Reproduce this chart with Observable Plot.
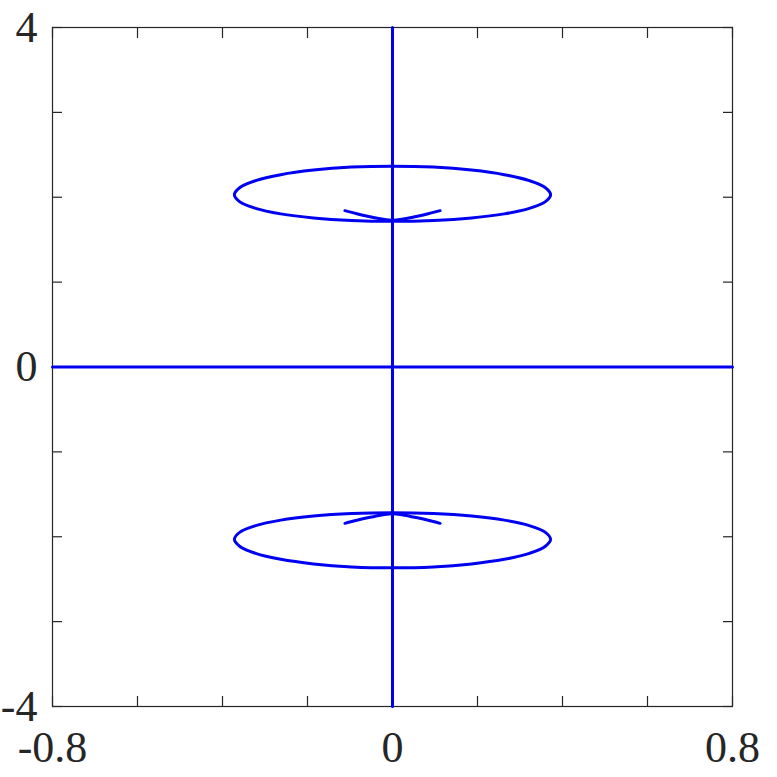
<!DOCTYPE html>
<html>
<head>
<meta charset="utf-8">
<script src="https://cdn.jsdelivr.net/npm/d3@7"></script>
<script src="https://cdn.jsdelivr.net/npm/@observablehq/plot@0.6"></script>
</head>
<body style="margin:0;background:#fff;font-family:'Times New Roman','Liberation Serif',serif">
<div id="chart"></div>
<script>
// Tick positions and labels
const xTicks = [-0.8, -0.6, -0.4, -0.2, 0, 0.2, 0.4, 0.6, 0.8];
const xTickLabels = ["-0.8", "", "", "", "0", "", "", "", "0.8"];
const yTicks = [-4, -3, -2, -1, 0, 1, 2, 3, 4];
const yTickLabels = ["-4", "", "", "", "0", "", "", "", "4"];

// Straight branches
const verticalX = [0, 0];
const verticalY = [-4, 4];
const horizontalX = [-0.8, 0.8];
const horizontalY = [0, 0];

// Upper loop
const upperLoopX = [0.372, 0.359, 0.322, 0.263, 0.186, 0.096, 0, -0.096, -0.186, -0.263, -0.322, -0.359,
                    -0.372, -0.359, -0.322, -0.263, -0.186, -0.096, 0, 0.096, 0.186, 0.263, 0.322, 0.359];
const upperLoopY = [2.030, 2.115, 2.196, 2.266, 2.320, 2.355, 2.366, 2.355, 2.320, 2.266, 2.196, 2.115,
                    2.030, 1.946, 1.869, 1.804, 1.756, 1.726, 1.716, 1.726, 1.756, 1.804, 1.869, 1.946];
// Lower loop
const lowerLoopX = [0.372, 0.359, 0.322, 0.263, 0.186, 0.096, 0, -0.096, -0.186, -0.263, -0.322, -0.359,
                    -0.372, -0.359, -0.322, -0.263, -0.186, -0.096, 0, 0.096, 0.186, 0.263, 0.322, 0.359];
const lowerLoopY = [-2.030, -2.115, -2.196, -2.266, -2.320, -2.355, -2.366, -2.355, -2.320, -2.266, -2.196, -2.115,
                    -2.030, -1.946, -1.869, -1.804, -1.756, -1.726, -1.716, -1.726, -1.756, -1.804, -1.869, -1.946];

// Small inner arcs near the loop bottoms/tops
const upperArcX = [-0.112, -0.084, -0.056, -0.028, 0, 0.028, 0.056, 0.084, 0.112];
const upperArcY = [1.842, 1.806, 1.774, 1.746, 1.728, 1.746, 1.774, 1.806, 1.842];
const lowerArcX = [-0.112, -0.084, -0.056, -0.028, 0, 0.028, 0.056, 0.084, 0.112];
const lowerArcY = [-1.842, -1.806, -1.774, -1.746, -1.728, -1.746, -1.774, -1.806, -1.842];

const toPts = (xs, ys) => xs.map((x, i) => ({x, y: ys[i]}));
const xLabelMap = new Map(xTicks.map((d, i) => [d, xTickLabels[i]]));
const yLabelMap = new Map(yTicks.map((d, i) => [d, yTickLabels[i]]));

const blue = "#0000f0";
const axisColor = "#262626";
const serif = "Times New Roman";
const sw = 3;

const chart = Plot.plot({
  width: 777,
  height: 777,
  marginLeft: 52,
  marginRight: 45,
  marginTop: 27,
  marginBottom: 71,
  style: {fontFamily: "'Times New Roman', 'Liberation Serif', serif", background: "#fff", color: axisColor},
  x: {domain: [-0.8, 0.8], label: null},
  y: {domain: [-4, 4], label: null},
  marks: [
    Plot.frame({stroke: axisColor, strokeWidth: 1.2}),
    // inward ticks on all sides
    Plot.axisX(xTicks, {anchor: "bottom", tickSize: -10, tickFormat: () => "", stroke: axisColor, strokeWidth: 1.2, label: null}),
    Plot.axisX(xTicks, {anchor: "top", tickSize: -10, tickFormat: () => "", stroke: axisColor, strokeWidth: 1.2, label: null}),
    Plot.axisY(yTicks, {anchor: "left", tickSize: -10, tickFormat: () => "", stroke: axisColor, strokeWidth: 1.2, label: null}),
    Plot.axisY(yTicks, {anchor: "right", tickSize: -10, tickFormat: () => "", stroke: axisColor, strokeWidth: 1.2, label: null}),
    // tick labels
    Plot.axisX(xTicks, {anchor: "bottom", tickSize: 0, tickPadding: 24, tickFormat: d => xLabelMap.get(d), fontSize: 44, fontFamily: serif, fill: axisColor, label: null}),
    Plot.axisY(yTicks, {anchor: "left", tickSize: 0, tickPadding: 15, tickFormat: d => yLabelMap.get(d), fontSize: 44, fontFamily: serif, fill: axisColor, label: null}),
    // curves
    Plot.line(toPts(verticalX, verticalY), {x: "x", y: "y", stroke: blue, strokeWidth: sw}),
    Plot.line(toPts(horizontalX, horizontalY), {x: "x", y: "y", stroke: blue, strokeWidth: sw}),
    Plot.line(toPts(upperLoopX, upperLoopY), {x: "x", y: "y", stroke: blue, strokeWidth: sw, curve: "catmull-rom-closed"}),
    Plot.line(toPts(lowerLoopX, lowerLoopY), {x: "x", y: "y", stroke: blue, strokeWidth: sw, curve: "catmull-rom-closed"}),
    Plot.line(toPts(upperArcX, upperArcY), {x: "x", y: "y", stroke: blue, strokeWidth: sw, curve: "catmull-rom"}),
    Plot.line(toPts(lowerArcX, lowerArcY), {x: "x", y: "y", stroke: blue, strokeWidth: sw, curve: "catmull-rom"})
  ]
});
chart.style.display = "block";
chart.querySelectorAll("g").forEach(el => {
  if (el.hasAttribute("font-variant")) el.removeAttribute("font-variant");
});
document.getElementById("chart").appendChild(chart);
</script>
</body>
</html>
